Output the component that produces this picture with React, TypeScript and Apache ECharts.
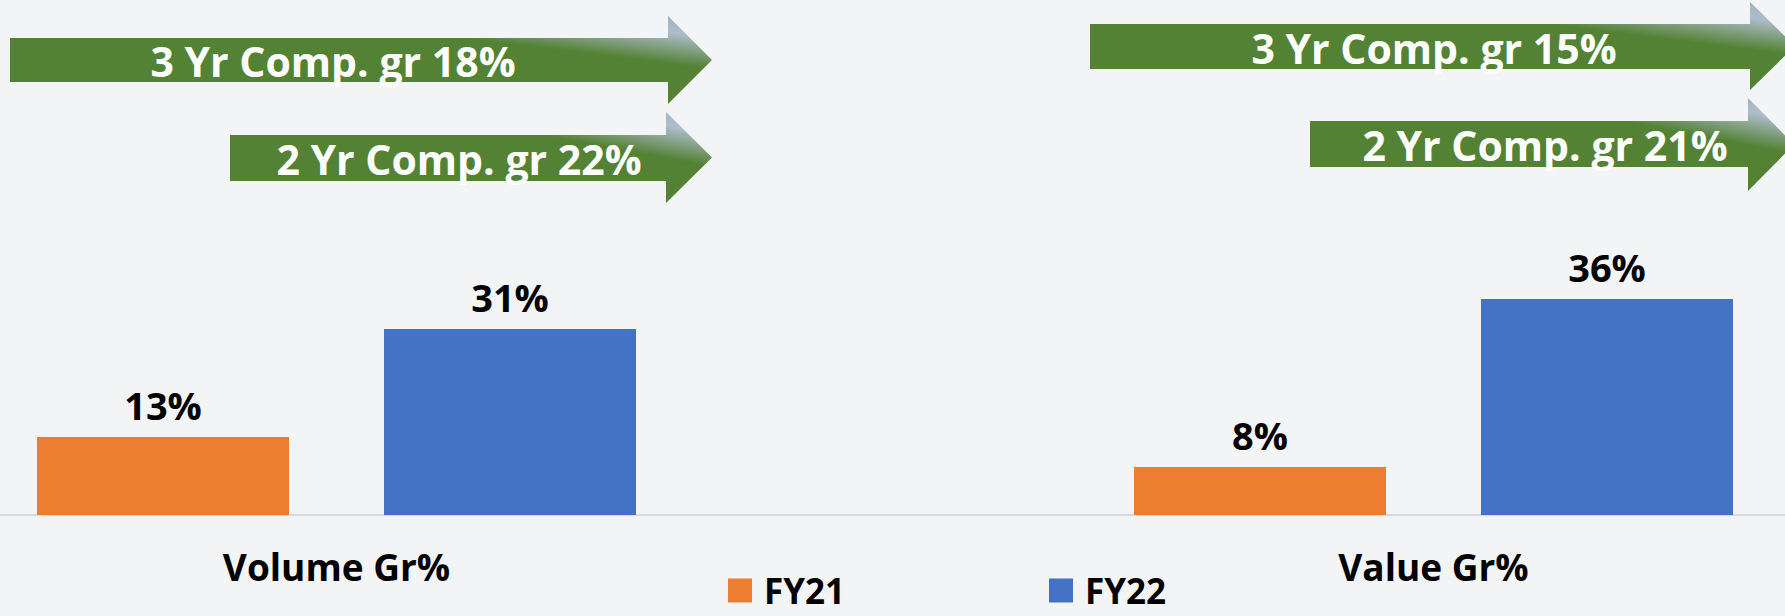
import React, { useEffect, useRef } from "react";
import * as echarts from "echarts";

// ---- data ----
const categories = ["Volume Gr%", "Value Gr%"];
const seriesNames = ["FY21", "FY22"];
const fy21Values = [13, 8];
const fy22Values = [31, 36];
const arrowTexts = [
  "3 Yr Comp. gr 18%",
  "2 Yr Comp. gr 22%",
  "3 Yr Comp. gr 15%",
  "2 Yr Comp. gr 21%",
];

// ---- styles / layout ----
const W = 1785;
const H = 616;
// the plot area of the original is wider than the visible picture (it is cropped)
const OFF = 212;
const CHART_W = 2194;
const BG = "#f3f4f6";
const FONT = "'Open Sans', 'Noto Sans', sans-serif";
const ORANGE = "#ED7D31";
const BLUE = "#4472C4";
const GREEN = "#548235";

// arrow geometry (visible-page pixels): [bodyLeft, bodyRight, bodyTop, bodyBottom, headTop, headBottom, tipX, textCenterX]
const arrowGeom = [
  [10, 668, 38, 82, 16, 104, 712, 333],
  [230, 666, 135, 181, 112, 203, 712, 459],
  [1090, 1750, 24, 69, 2, 90, 1795, 1434],
  [1310, 1748, 121, 167, 98, 191, 1794, 1545],
];

function buildArrow(g: number[], text: string) {
  const [x0, xb, yt, yb, ht, hb, tipX, tx] = g.map((v, i) =>
    i === 0 || i === 1 || i === 6 || i === 7 ? v + OFF : v
  );
  const tipY = (ht + hb) / 2;
  const fill = new echarts.graphic.LinearGradient(0, 1, 1, 0, [
    { offset: 0, color: GREEN },
    { offset: 0.7, color: GREEN },
    { offset: 0.88, color: "#aebdcb" },
    { offset: 0.95, color: "#a3b4c3" },
    { offset: 1, color: "#6e8f58" },
  ]);
  return [
    {
      type: "polygon",
      shape: {
        points: [
          [x0, yt],
          [xb, yt],
          [xb, ht],
          [tipX, tipY],
          [xb, hb],
          [xb, yb],
          [x0, yb],
        ],
      },
      style: { fill },
      silent: true,
    },
    {
      type: "text",
      x: tx,
      y: (yt + yb) / 2 + 1,
      style: {
        text,
        fill: "#ffffff",
        fontSize: 41,
        fontWeight: "bold",
        fontFamily: FONT,
        align: "center",
        verticalAlign: "middle",
      },
      silent: true,
    },
  ];
}

export default function App() {
  const ref = useRef<HTMLDivElement>(null);

  useEffect(() => {
    if (!ref.current) return;
    const chart = echarts.init(ref.current, undefined, { renderer: "svg" });

    const labelStyle = {
      show: true,
      position: "top",
      distance: 13,
      formatter: "{c}%",
      color: "#000",
      fontSize: 38,
      fontWeight: "bold",
      fontFamily: FONT,
      lineHeight: 38,
    };

    const legendBase = {
      top: 573,
      padding: 0,
      itemWidth: 24,
      itemHeight: 24,
      icon: "rect",
      selectedMode: false,
      textStyle: {
        fontSize: 35,
        fontWeight: "bold",
        color: "#000",
        fontFamily: FONT,
        lineHeight: 35,
        padding: [0, 0, 0, 7],
      },
    };

    const graphics: any[] = [];
    arrowGeom.forEach((g, i) => graphics.push(...buildArrow(g, arrowTexts[i])));

    chart.setOption({
      animation: false,
      backgroundColor: BG,
      grid: { left: 0, right: 0, top: 35, bottom: 101, containLabel: false },
      xAxis: {
        type: "category",
        data: categories,
        axisLine: { show: true, lineStyle: { color: "#d9d9d9", width: 2 } },
        axisTick: { show: false },
        axisLabel: {
          interval: 0,
          margin: 32,
          color: "#000",
          fontSize: 37,
          fontWeight: "bold",
          fontFamily: FONT,
          lineHeight: 38,
        },
      },
      yAxis: {
        type: "value",
        min: 0,
        max: 80,
        show: false,
        splitLine: { show: false },
      },
      legend: [
        { ...legendBase, data: [seriesNames[0]], left: 728 + OFF },
        { ...legendBase, data: [seriesNames[1]], left: 1049 + OFF },
      ],
      series: [
        {
          name: seriesNames[0],
          type: "bar",
          data: fy21Values,
          barWidth: 252,
          barGap: "37.7%",
          itemStyle: { color: ORANGE },
          label: labelStyle,
        },
        {
          name: seriesNames[1],
          type: "bar",
          data: fy22Values,
          barWidth: 252,
          barGap: "37.7%",
          itemStyle: { color: BLUE },
          label: labelStyle,
        },
      ],
      graphic: graphics,
    });

    return () => chart.dispose();
  }, []);

  return (
    <div
      style={{
        position: "fixed",
        left: 0,
        top: 0,
        width: W,
        height: H,
        overflow: "hidden",
        background: BG,
      }}
    >
      <div
        ref={ref}
        style={{ position: "absolute", left: -OFF, top: 0, width: CHART_W, height: H }}
      />
    </div>
  );
}
